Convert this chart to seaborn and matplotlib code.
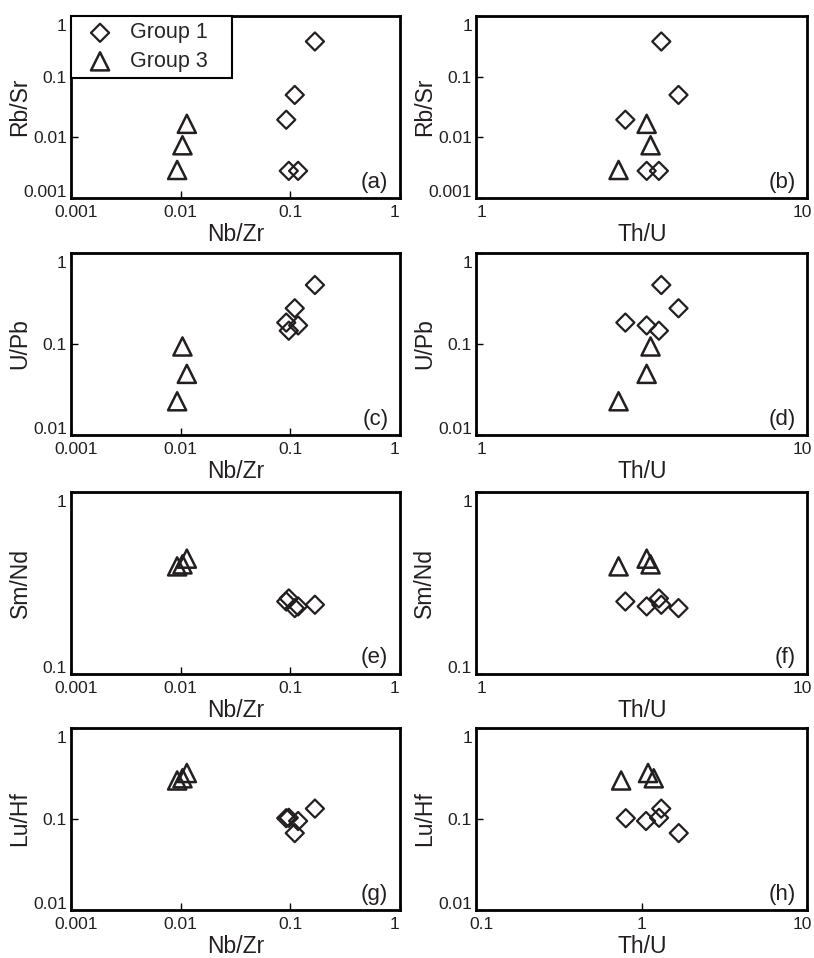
import matplotlib
matplotlib.use("Agg")
import math
import matplotlib.pyplot as plt
import matplotlib.ticker as mticker
import matplotlib.transforms as mtransforms
import seaborn as sns
import pandas as pd

# ----------------------------
# Data
# ----------------------------
# Group 1 samples (diamonds)
nb_zr_g1 = [0.168, 0.110, 0.092, 0.097, 0.118]
th_u_g1 = [3.62, 4.08, 2.82, 3.56, 3.27]
th_u_g1_h = [1.31, 1.67, 0.80, 1.27, 1.06]
rb_sr_g1 = [0.38, 0.050, 0.0195, 0.0028, 0.0028]
u_pb_g1 = [0.445, 0.247, 0.172, 0.140, 0.160]
sm_nd_g1 = [0.240, 0.230, 0.250, 0.260, 0.235]
lu_hf_g1 = [0.130, 0.070, 0.102, 0.103, 0.095]

# Group 3 samples (triangles)
nb_zr_g3 = [0.0114, 0.0104, 0.0093]
th_u_g3 = [3.27, 3.36, 2.69]
th_u_g3_h = [1.09, 1.18, 0.75]
rb_sr_g3 = [0.0167, 0.0074, 0.0029]
u_pb_g3 = [0.047, 0.094, 0.0235]
sm_nd_g3 = [0.43, 0.40, 0.39]
lu_hf_g3 = [0.32, 0.28, 0.265]

g1 = pd.DataFrame({"nb_zr": nb_zr_g1, "th_u": th_u_g1, "th_u_h": th_u_g1_h,
                   "rb_sr": rb_sr_g1, "u_pb": u_pb_g1, "sm_nd": sm_nd_g1,
                   "lu_hf": lu_hf_g1})
g3 = pd.DataFrame({"nb_zr": nb_zr_g3, "th_u": th_u_g3, "th_u_h": th_u_g3_h,
                   "rb_sr": rb_sr_g3, "u_pb": u_pb_g3, "sm_nd": sm_nd_g3,
                   "lu_hf": lu_hf_g3})

# (x col, y col, xlim, ylim, xlabel, ylabel, letter)
panels = [
    ("nb_zr", "rb_sr", (0.001, 1), (0.001, 1), "Nb/Zr", "Rb/Sr", "(a)"),
    ("th_u", "rb_sr", (1, 10), (0.001, 1), "Th/U", "Rb/Sr", "(b)"),
    ("nb_zr", "u_pb", (0.001, 1), (0.01, 1), "Nb/Zr", "U/Pb", "(c)"),
    ("th_u", "u_pb", (1, 10), (0.01, 1), "Th/U", "U/Pb", "(d)"),
    ("nb_zr", "sm_nd", (0.001, 1), (0.1, 1), "Nb/Zr", "Sm/Nd", "(e)"),
    ("th_u", "sm_nd", (1, 10), (0.1, 1), "Th/U", "Sm/Nd", "(f)"),
    ("nb_zr", "lu_hf", (0.001, 1), (0.01, 1), "Nb/Zr", "Lu/Hf", "(g)"),
    ("th_u_h", "lu_hf", (0.1, 10), (0.01, 1), "Th/U", "Lu/Hf", "(h)"),
]


def decades(lim):
    lo, hi = round(math.log10(lim[0])), round(math.log10(lim[1]))
    return [10.0 ** k for k in range(lo, hi + 1)]


sns.set_style("ticks")
plt.rcParams["font.family"] = ["Liberation Sans", "DejaVu Sans"]

ink = "#231f20"
fig = plt.figure(figsize=(8.14, 9.58), dpi=100)

lefts = [0.0872, 0.585]
widths = [0.404, 0.407]
bottoms = [0.7933, 0.5459, 0.2965, 0.0501]

axes = []
for i, (xc, yc, xlim, ylim, xlab, ylab, letter) in enumerate(panels):
    row, col = divmod(i, 2)
    ax = fig.add_axes([lefts[col], bottoms[row], widths[col], 0.19])
    axes.append(ax)

    sns.scatterplot(data=g1, x=xc, y=yc, ax=ax, marker="D", s=85,
                    facecolor="none", edgecolor=ink, linewidth=1.6,
                    label="Group 1", zorder=3)
    sns.scatterplot(data=g3, x=xc, y=yc, ax=ax, marker="^", s=170,
                    facecolor="none", edgecolor=ink, linewidth=1.8,
                    label="Group 3", zorder=3)

    ax.set_xscale("log")
    ax.set_yscale("log")
    ax.set_xlim(*xlim)
    ax.set_ylim(*ylim)
    ax.xaxis.set_major_locator(mticker.FixedLocator(decades(xlim)))
    ax.yaxis.set_major_locator(mticker.FixedLocator(decades(ylim)))
    ax.xaxis.set_minor_locator(mticker.NullLocator())
    ax.yaxis.set_minor_locator(mticker.NullLocator())
    fmt = mticker.FuncFormatter(lambda v, p: f"{v:g}")
    ax.xaxis.set_major_formatter(fmt)
    ax.yaxis.set_major_formatter(fmt)
    ax.tick_params(axis="both", which="major", direction="in", length=5,
                   width=1, color="black", labelsize=12.5,
                   labelcolor=ink)
    ax.tick_params(axis="x", pad=5)
    ax.tick_params(axis="y", pad=3)

    for sp in ax.spines.values():
        sp.set_linewidth(2)
        sp.set_color("black")

    ax.set_xlabel(xlab, fontsize=16.5, color=ink)
    ax.set_ylabel(ylab, fontsize=16.5, color=ink)
    ax.xaxis.set_label_coords(0.5, -0.135)
    ax.yaxis.set_label_coords(-0.12, 0.5)

    ax.text(0.965, 0.03, letter, transform=ax.transAxes, ha="right",
            va="bottom", fontsize=16, color=ink)

    if i == 0:
        leg = ax.legend(loc="upper left", bbox_to_anchor=(0, 1, 0.49, 0),
                        mode="expand", borderaxespad=0, fontsize=15.5,
                        fancybox=False, edgecolor="black", framealpha=1,
                        handletextpad=0.35, borderpad=0.3, labelspacing=0.35,
                        handlelength=2.1)
        leg.get_frame().set_linewidth(1.5)
    else:
        ax.get_legend().remove()

# end tick labels sit a little inside the frame, as in the original
fig.canvas.draw()
for ax in axes:
    xl = ax.xaxis.get_ticklabels()
    yl = ax.yaxis.get_ticklabels()
    moves = [(xl[0], 5, 0), (xl[-1], -5, 0), (yl[0], 0, 7), (yl[-1], 0, -9)]
    for lab, dx, dy in moves:
        off = mtransforms.ScaledTranslation(dx / 100, dy / 100, fig.dpi_scale_trans)
        lab.set_transform(lab.get_transform() + off)

plt.savefig("out.png", dpi=100)
plt.close()
